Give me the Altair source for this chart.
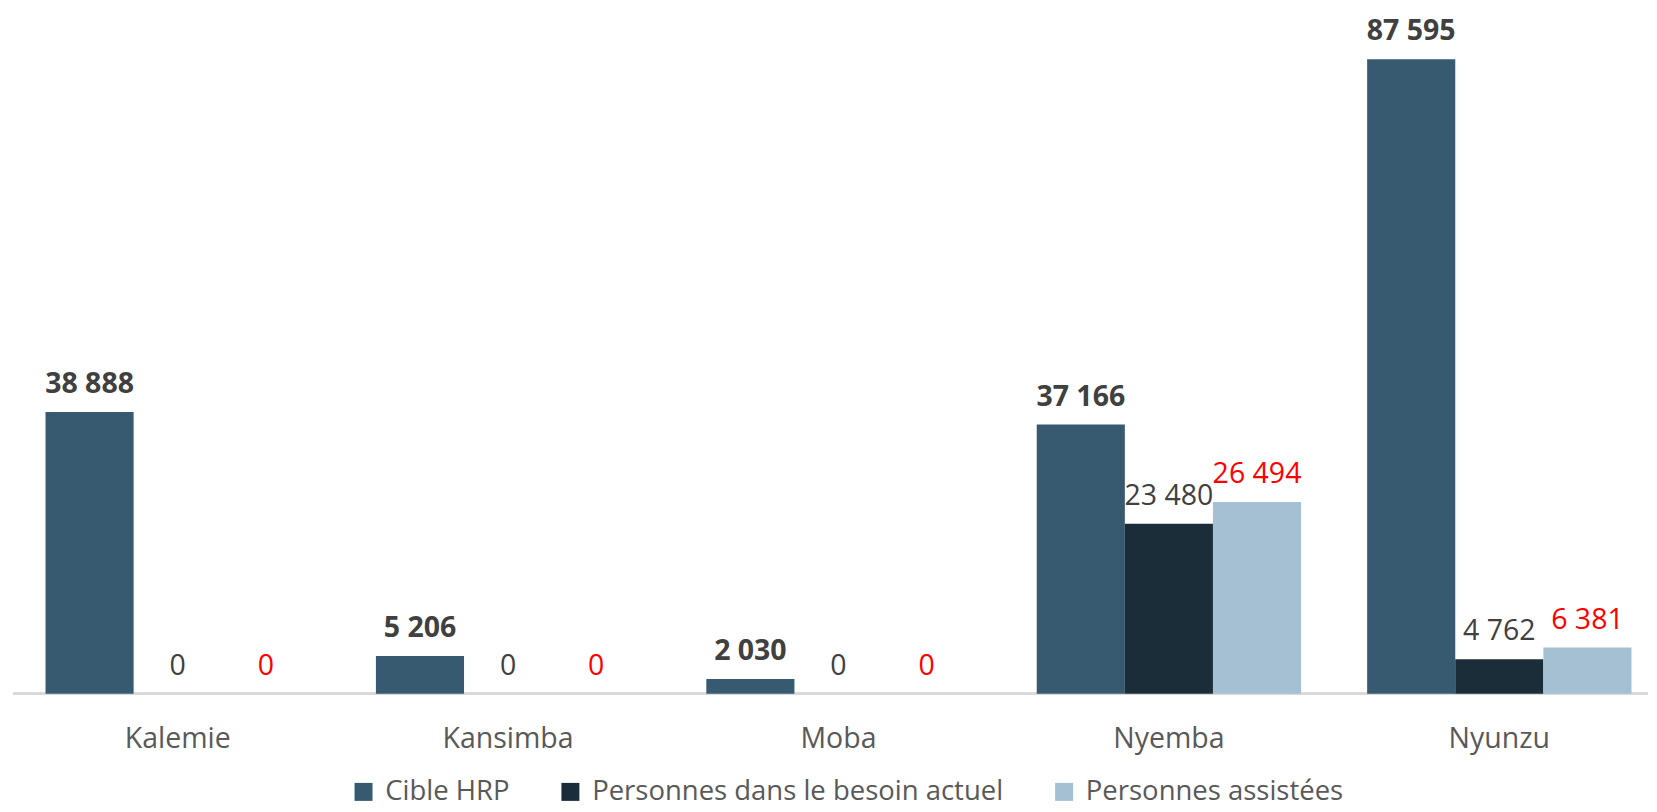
import altair as alt
import pandas as pd

categories = ["Kalemie", "Kansimba", "Moba", "Nyemba", "Nyunzu"]
series = ["Cible HRP", "Personnes dans le besoin actuel", "Personnes assistées"]
cible_hrp = [38888, 5206, 2030, 37166, 87595]
besoin_actuel = [0, 0, 0, 23480, 4762]
assistees = [0, 0, 0, 26494, 6381]
colors = ["#375A70", "#1C2D3A", "#A4C0D2"]

rows = []
for s, vals in zip(series, [cible_hrp, besoin_actuel, assistees]):
    for c, v in zip(categories, vals):
        rows.append({"cat": c, "serie": s, "val": v,
                     "label": f"{v:,}".replace(",", " ")})
df = pd.DataFrame(rows)

FONT = "Open Sans"
W, H = 1620, 686

x = alt.X("cat:N", sort=categories, title=None,
          scale=alt.Scale(paddingInner=0.2, paddingOuter=0.05),
          axis=alt.Axis(labelAngle=0, ticks=False, domain=False,
                        labelFontSize=28.5, labelColor="#595959",
                        labelFont=FONT, labelPadding=31))
xo = alt.XOffset("serie:N", sort=series)
y = alt.Y("val:Q", scale=alt.Scale(domain=[0, 94630]), axis=None)

bars = alt.Chart(df).mark_bar().encode(
    x=x, xOffset=xo, y=y,
    color=alt.Color("serie:N", sort=series,
                    scale=alt.Scale(domain=series, range=colors),
                    legend=alt.Legend(title=None, orient="none", direction="horizontal",
                                      legendX=321, legendY=770,
                                      symbolType="square", symbolSize=324,
                                      symbolStrokeWidth=0,
                                      labelFontSize=27.5, labelFont=FONT,
                                      labelColor="#595959", labelOffset=8,
                                      columnPadding=47, labelLimit=0)),
)

baseline_rule = alt.Chart(df).mark_rule(color="#D9D9D9", strokeWidth=2).encode(
    x=alt.value(-16), x2=alt.value(W), y=alt.value(H))

bold_text = alt.Chart(df).transform_filter(alt.datum.serie == "Cible HRP").mark_text(
    baseline="alphabetic", dy=-19, fontSize=28.5, fontWeight="bold", font=FONT,
    color="#404040").encode(x=x, xOffset=xo, y=y, text="label:N")

normal_text = alt.Chart(df).transform_filter(alt.datum.serie != "Cible HRP").mark_text(
    baseline="alphabetic", dy=-19, fontSize=28.5, font=FONT).encode(
    x=x, xOffset=xo, y=y, text="label:N",
    color=alt.condition(alt.datum.serie == "Personnes assistées",
                        alt.value("#FF0000"), alt.value("#404040")))

chart = alt.layer(baseline_rule, bars, bold_text, normal_text).properties(
    width=W, height=H,
    padding={"left": 4, "top": 0, "right": 0, "bottom": 6},
).configure_view(stroke=None)

chart.save("out.html", embed_options={"renderer": "svg", "actions": False})
